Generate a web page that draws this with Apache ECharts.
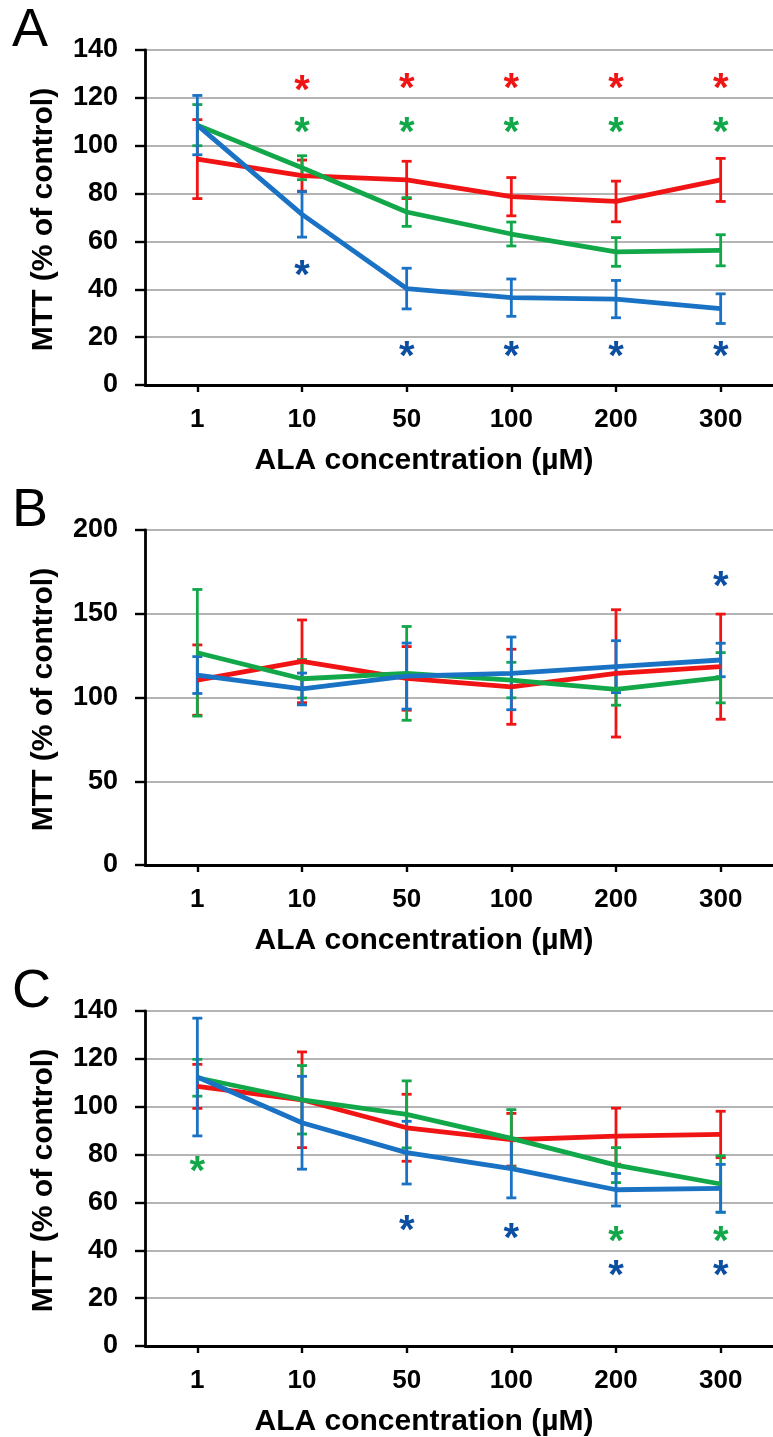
<!DOCTYPE html>
<html>
<head>
<meta charset="utf-8">
<script src="https://cdn.jsdelivr.net/npm/echarts@6/dist/echarts.min.js"></script>
<style>
html,body{margin:0;padding:0;background:#fff;}
#c{width:773px;height:1437px;}
</style>
</head>
<body>
<div id="c"></div>
<script>
// ---------- DATA ----------
const categories = ['1', '10', '50', '100', '200', '300'];

const A_red = [94.4, 87.5, 85.7, 78.7, 76.7, 85.7];
const A_redErr = [16.5, 6.5, 7.8, 8.0, 8.5, 9.0];
const A_green = [108.6, 90.8, 72.3, 63.1, 55.6, 56.3];
const A_greenErr = [8.6, 5.0, 6.0, 5.0, 6.0, 6.5];
const A_blue = [108.6, 71.3, 40.3, 36.5, 35.9, 31.9];
const A_blueErr = [12.4, 9.5, 8.5, 7.8, 7.8, 6.2];
const A_starRed = [null, 125.8, 126.5, 126.5, 126.5, 126.5];
const A_starGreen = [null, 108.2, 108.2, 108.2, 108.2, 108.2];
const A_starBlue = [null, 48.5, 14.6, 14.6, 14.6, 14.6];

const B_red = [110.4, 121.6, 111.4, 106.4, 114.4, 118.4];
const B_redErr = [21.0, 24.7, 19.0, 22.4, 38.0, 31.4];
const B_green = [126.7, 111.2, 114.4, 110.4, 104.9, 111.8];
const B_greenErr = [37.8, 11.5, 28.0, 10.6, 9.5, 15.0];
const B_blue = [113.4, 105.1, 112.8, 114.4, 118.4, 122.4];
const B_blueErr = [11.0, 9.5, 19.7, 21.7, 15.5, 10.0];
const B_starRed = [null, null, null, null, null, null];
const B_starGreen = [null, null, null, null, null, null];
const B_starBlue = [null, null, null, null, null, 170.0];

const C_red = [108.5, 102.9, 91.2, 86.2, 87.7, 88.4];
const C_redErr = [9.2, 20.0, 14.0, 11.0, 11.7, 9.7];
const C_green = [112.1, 102.9, 96.8, 86.8, 75.6, 67.7];
const C_greenErr = [7.7, 14.3, 14.0, 12.0, 7.3, 11.8];
const C_blue = [112.4, 93.3, 80.8, 74.1, 65.3, 65.9];
const C_blueErr = [24.6, 19.4, 13.1, 12.2, 6.8, 10.0];
const C_starRed = [null, null, null, null, null, null];
const C_starGreen = [75.5, null, null, null, 46.5, 46.5];
const C_starBlue = [null, null, 50.8, 47.6, 32.3, 32.3];

const yTicksA = [0, 140, 20];
const yTicksB = [0, 200, 50];
const yTicksC = [0, 140, 20];

const panelLetters = ['A', 'B', 'C'];
const yTitle = 'MTT (% of control)';
const xTitle = 'ALA concentration (µM)';

// ---------- STYLE ----------
const FONT = '"Liberation Sans", Arial, sans-serif';
const RED = '#f01414', GREEN = '#12a84a', BLUE = '#1a72c4', STARBLUE = '#0c4ea2';

const panels = [
  {top: 50, y: yTicksA, red: A_red, redE: A_redErr, green: A_green, greenE: A_greenErr, blue: A_blue, blueE: A_blueErr, sr: A_starRed, sg: A_starGreen, sb: A_starBlue},
  {top: 530, y: yTicksB, red: B_red, redE: B_redErr, green: B_green, greenE: B_greenErr, blue: B_blue, blueE: B_blueErr, sr: B_starRed, sg: B_starGreen, sb: B_starBlue},
  {top: 1011, y: yTicksC, red: C_red, redE: C_redErr, green: C_green, greenE: C_greenErr, blue: C_blue, blueE: C_blueErr, sr: C_starRed, sg: C_starGreen, sb: C_starBlue}
];
const GRID_LEFT = 145, GRID_W = 636, GRID_H = 335;

const grids = [], xAxes = [], yAxes = [], series = [], graphics = [];

function errSeries(idx, vals, errs, color) {
  return {
    type: 'custom', xAxisIndex: idx, yAxisIndex: idx, z: 3,
    data: vals.map((v, i) => [i, v, errs[i]]),
    encode: {x: 0, y: 1},
    renderItem: function (params, api) {
      const x = api.value(0), v = api.value(1), e = api.value(2);
      const t = api.coord([x, v + e]), b = api.coord([x, v - e]);
      const cw = 5;
      const st = {stroke: color, lineWidth: 2.8};
      return {type: 'group', children: [
        {type: 'line', shape: {x1: t[0], y1: t[1], x2: b[0], y2: b[1]}, style: st},
        {type: 'line', shape: {x1: t[0] - cw, y1: t[1], x2: t[0] + cw, y2: t[1]}, style: st},
        {type: 'line', shape: {x1: b[0] - cw, y1: b[1], x2: b[0] + cw, y2: b[1]}, style: st}
      ]};
    }
  };
}
function lineSeries(idx, vals, color) {
  return {type: 'line', xAxisIndex: idx, yAxisIndex: idx, z: 3, data: vals, symbol: 'none',
    lineStyle: {color: color, width: 4.8}, itemStyle: {color: color}, animation: false};
}
function starSeries(idx, vals, color) {
  return {
    type: 'custom', xAxisIndex: idx, yAxisIndex: idx, z: 5,
    data: vals.map((v, i) => [i, v]).filter(d => d[1] !== null),
    encode: {x: 0, y: 1},
    renderItem: function (params, api) {
      const p = api.coord([api.value(0), api.value(1)]);
      return {type: 'text', x: p[0], y: p[1] + 8, style: {text: '*', fill: color,
        font: 'bold 40px ' + FONT, textAlign: 'center', textVerticalAlign: 'middle'}};
    }
  };
}

panels.forEach((p, i) => {
  grids.push({left: GRID_LEFT, top: p.top, width: GRID_W, height: GRID_H, containLabel: false});
  xAxes.push({
    type: 'category', gridIndex: i, data: categories, boundaryGap: true,
    axisLine: {lineStyle: {color: '#000', width: 2.8}},
    axisTick: {show: true, alignWithLabel: true, length: 7, lineStyle: {color: '#000', width: 2.4}},
    axisLabel: {color: '#000', fontFamily: FONT, fontWeight: 'bold', fontSize: 26, margin: 22},
    splitLine: {show: false}
  });
  yAxes.push({
    type: 'value', gridIndex: i, min: p.y[0], max: p.y[1], interval: p.y[2],
    axisLine: {show: true, lineStyle: {color: '#000', width: 2.8}},
    axisTick: {show: true, length: 10, lineStyle: {color: '#000', width: 2.4}},
    axisLabel: {color: '#000', fontFamily: FONT, fontWeight: 'bold', fontSize: 27, margin: 27},
    splitLine: {show: true, lineStyle: {color: '#b4b4b4', width: 2}}
  });
  series.push(errSeries(i, p.red, p.redE, RED));
  series.push(lineSeries(i, p.red, RED));
  series.push(errSeries(i, p.green, p.greenE, GREEN));
  series.push(lineSeries(i, p.green, GREEN));
  series.push(errSeries(i, p.blue, p.blueE, BLUE));
  series.push(lineSeries(i, p.blue, BLUE));
  series.push(starSeries(i, p.sr, RED));
  series.push(starSeries(i, p.sg, GREEN));
  series.push(starSeries(i, p.sb, STARBLUE));

  const axisBottom = p.top + GRID_H;
  graphics.push({type: 'text', left: 12, top: p.top - 46,
    style: {text: panelLetters[i], font: '54px ' + FONT, fill: '#000'}});
  graphics.push({type: 'text', x: 44, y: p.top + GRID_H / 2 + 2, rotation: Math.PI / 2,
    style: {text: yTitle, font: 'bold 30px ' + FONT, fill: '#000', textAlign: 'center', textVerticalAlign: 'middle'}});
  graphics.push({type: 'text', x: 424, y: axisBottom + 76,
    style: {text: xTitle, font: 'bold 30px ' + FONT, fill: '#000', textAlign: 'center', textVerticalAlign: 'middle'}});
});

const chart = echarts.init(document.getElementById('c'), null, {renderer: 'canvas'});
chart.setOption({
  animation: false,
  backgroundColor: '#fff',
  grid: grids, xAxis: xAxes, yAxis: yAxes, series: series, graphic: graphics
});
</script>
</body>
</html>
